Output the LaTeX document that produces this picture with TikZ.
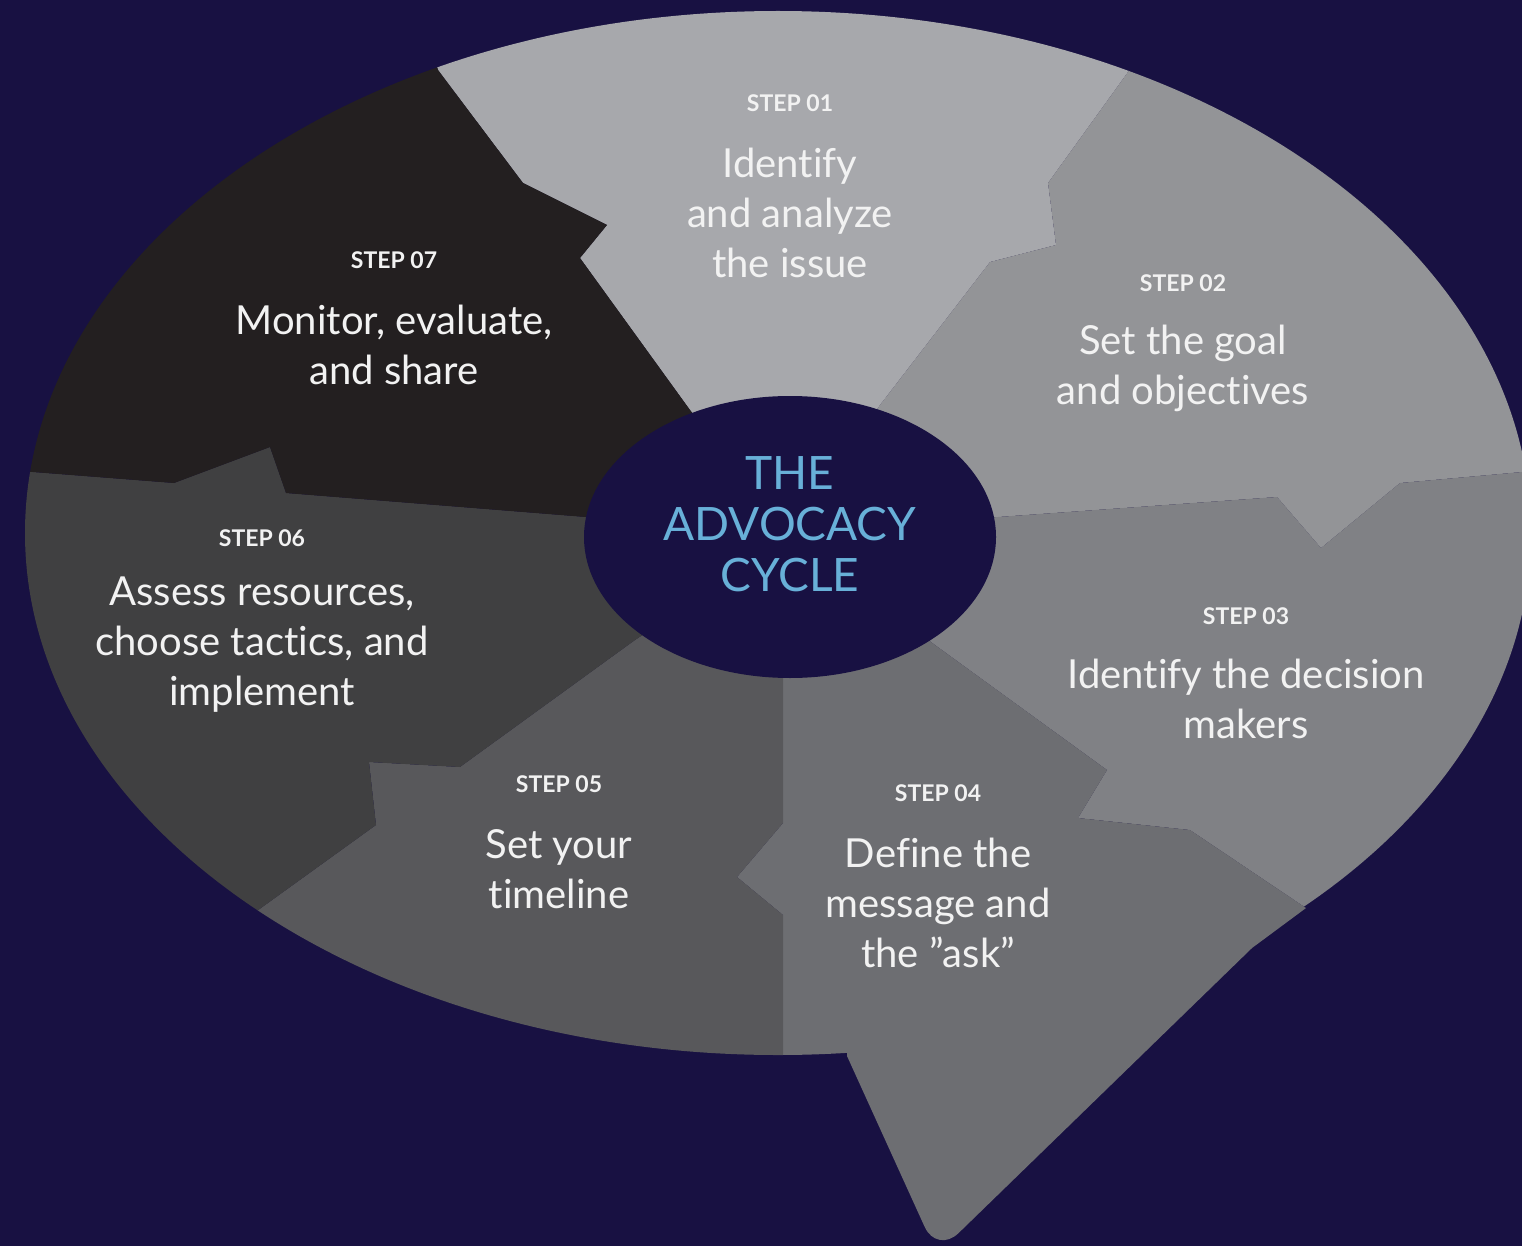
\documentclass[tikz,border=0pt]{standalone}
\usepackage{fontspec}
\setmainfont{Lato}[Ligatures=NoCommon]
\usetikzlibrary{shapes.geometric}
\definecolor{bgnavy}{RGB}{24,17,66}
\definecolor{cA}{RGB}{167,168,172}
\definecolor{cB}{RGB}{147,148,151}
\definecolor{cC}{RGB}{128,129,133}
\definecolor{cD}{RGB}{109,110,114}
\definecolor{cE}{RGB}{88,88,91}
\definecolor{cF}{RGB}{64,64,65}
\definecolor{cG}{RGB}{35,31,32}
\definecolor{txt}{RGB}{242,242,242}
\definecolor{hubblue}{RGB}{104,176,216}
\tikzset{
  steplbl/.style={text=txt, font=\fontsize{23}{28}\selectfont\bfseries, inner sep=0pt},
  bodytxt/.style={text=txt, font=\fontsize{40}{50}\selectfont, align=center, inner sep=0pt},
  hubtxt/.style={text=hubblue, font=\fontsize{46}{51}\selectfont, align=center, inner sep=0pt},
  hub/.style={ellipse, fill=bgnavy, minimum width=412pt, minimum height=282pt, inner sep=0pt}
}
\begin{document}
\begin{tikzpicture}[x=1pt,y=-1pt]
\useasboundingbox (0,0) rectangle (1522,1246);
\fill[bgnavy] (0,0) rectangle (1522,1246);
\coordinate (ctr) at (790,537);
\begin{scope}
  \clip (778,533) ellipse [x radius=753pt, y radius=522pt];
  % step 1
  \fill[cA] (ctr) -- (690,410) -- (580,258) -- (607,225) -- (523,183) -- (438,70) -- (400,-50)
     -- (1180,-50) -- (1180,-10) -- (1128,72) -- (1048,183) -- (1056,245) -- (990,262) -- (880,405) -- cycle;
  % step 2
  \fill[cB] (ctr) -- (880,405) -- (990,262) -- (1056,245) -- (1048,183) -- (1128,72) -- (1180,-10)
     -- (1700,-10) -- (1700,462) -- (1522,472) -- (1400,483) -- (1321,548) -- (1277,497) -- (998,517) -- cycle;
  % step 3
  \fill[cC] (ctr) -- (998,517) -- (1277,497) -- (1321,548) -- (1400,483) -- (1522,472) -- (1700,462)
     -- (1700,1000) -- (1450,1000) -- (1306,908) -- (1190,830) -- (1078,818) -- (1107,770) -- (935,645) -- cycle;
  % step 4
  \fill[cD] (ctr) -- (935,645) -- (1107,770) -- (1078,818) -- (1190,830) -- (1306,908) -- (1450,1000)
     -- (1450,1400) -- (783,1400) -- (783,1054) -- (783,915) -- (737,877) -- (783,823) -- (783,678) -- cycle;
  % step 5
  \fill[cE] (ctr) -- (783,678) -- (783,823) -- (737,877) -- (783,915) -- (783,1054) -- (783,1400)
     -- (150,1400) -- (150,990) -- (261,908) -- (376,825) -- (369,762) -- (460,767) -- (635,640) -- cycle;
  % step 6
  \fill[cF] (ctr) -- (635,640) -- (460,767) -- (369,762) -- (376,825) -- (261,908) -- (150,990)
     -- (-100,990) -- (-100,462) -- (33,472) -- (174,483) -- (270,447) -- (286,493) -- (586,517) -- cycle;
  % step 7
  \fill[cG] (ctr) -- (586,517) -- (286,493) -- (270,447) -- (174,483) -- (33,472) -- (-100,462)
     -- (-100,-50) -- (400,-50) -- (438,70) -- (523,183) -- (607,225) -- (580,258) -- (690,410) -- cycle;
\end{scope}
% speech-bubble tail (part of step 4)
\fill[cD] (847,1000) -- (847,1056) [rounded corners=30pt] -- (937,1254) [sharp corners] -- (1252,948) -- (1306,908) -- (1190,850) -- cycle;
% hub
\node[hub] (hub) at (ctr) {};
\node[hubtxt] (hubtext) at (790,524) {THE\\ADVOCACY\\CYCLE};
% labels
\node[steplbl] (s1) at (790,103) {STEP 01};
\node[bodytxt] (t1) at (790,213) {Identify\\and analyze\\the issue};
\node[steplbl] (s2) at (1183,283) {STEP 02};
\node[bodytxt] (t2) at (1183,368) {Set the goal\\and objectives};
\node[steplbl] (s3) at (1246,616) {STEP 03};
\node[bodytxt] (t3) at (1246,699) {Identify the decision\\makers};
\node[steplbl] (s4) at (938,793) {STEP 04};
\node[bodytxt] (t4) at (938,903) {Define the\\message and\\the \symbol{34}ask\symbol{34}};
\node[steplbl] (s5) at (559,784) {STEP 05};
\node[bodytxt] (t5) at (559,869) {Set your\\timeline};
\node[steplbl] (s6) at (262,538) {STEP 06};
\node[bodytxt] (t6) at (262,645) {Assess resources,\\choose tactics, and\\implement};
\node[steplbl] (s7) at (394,260) {STEP 07};
\node[bodytxt] (t7) at (394,345) {Monitor, evaluate,\\and share};
\end{tikzpicture}
\end{document}
